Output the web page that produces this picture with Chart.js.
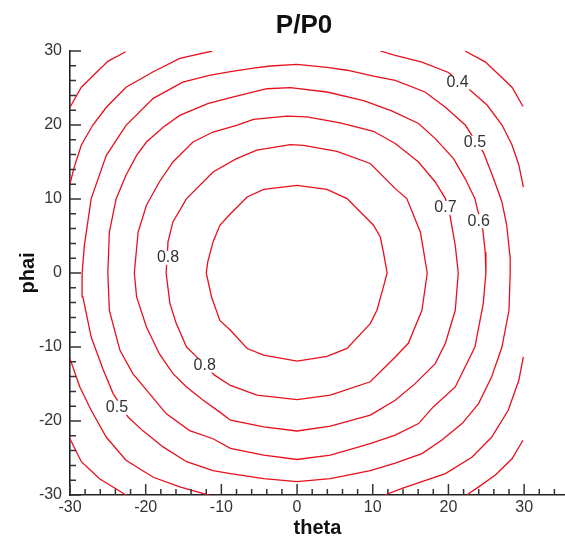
<!DOCTYPE html>
<html>
<head>
<meta charset="utf-8">
<script src="https://cdn.jsdelivr.net/npm/chart.js@4.4.1/dist/chart.umd.min.js"></script>
<style>
  html, body { margin: 0; padding: 0; background: #fff; }
  canvas { display: block; }
</style>
</head>
<body>
<canvas id="chart" width="565" height="536"></canvas>
<script>
// 축 눈금
const xTicks = [-30, -20, -10, 0, 10, 20, 30];
const yTicks = [-30, -20, -10, 0, 10, 20, 30];

// 등고선 (theta, phai) - 그림에서 읽은 꼭짓점
const c09 = [[0,11.85],[3.95,11.3],[6.6,10.05],[10.1,6.45],[11.0,4.86],[11.4,2.84],[11.9,0],[11.4,-1.9],[10.55,-5.04],[9.67,-6.84],[6.6,-10.2],[3.95,-11.26],[0,-11.9],[-4.4,-11.1],[-6.6,-10.2],[-8.8,-7.74],[-10.2,-6.4],[-11.3,-3.24],[-12.0,0],[-11.8,1.5],[-11.1,4.2],[-10.2,6.45],[-8.8,8.0],[-6.6,10.27],[-4.4,11.3],[0,11.85]];
const c08 = [[0.86,17.26],[5.27,16.45],[9.67,14.8],[12.97,11.4],[14.5,10.05],[16.3,5.5],[17.2,0],[16.5,-5.04],[14.7,-9.5],[12.97,-11.35],[9.67,-14.7],[4.4,-16.5],[0,-17.1],[-5.3,-16.5],[-8.8,-15.2],[-10.9,-13.8],[-13.5,-11.1],[-14.6,-10.0],[-15.96,-6.84],[-16.8,-4.1],[-17.3,0],[-17.05,4.2],[-16.4,6.9],[-14.6,10.05],[-11.1,13.65],[-8.0,15.46],[-5.3,16.6],[-0.9,17.35],[0.86,17.26]];
const c07 = [[1.3,21.1],[5.7,20.3],[10.1,19.15],[12.97,17.5],[16.05,15.0],[18.26,12.3],[19.6,10.05],[20.2,7.8],[20.9,3.74],[21.3,0],[20.9,-5.04],[19.6,-9.5],[18.26,-12.25],[15.6,-14.95],[12.97,-17.2],[9.67,-19.2],[4.4,-20.7],[0,-21.35],[-4.4,-20.8],[-8.8,-19.9],[-10.2,-18.8],[-12.4,-17.2],[-14.6,-15.4],[-16.4,-13.6],[-18.2,-10.9],[-19.9,-7.3],[-21.2,-3.24],[-21.5,0],[-21.0,5.54],[-19.9,9.15],[-18.2,12.3],[-16.4,15.0],[-13.75,17.7],[-11.1,19.05],[-8.0,19.96],[-5.75,20.77],[-1.33,21.2],[1.3,21.1]];
const c06 = [[-0.9,25.05],[3.95,24.46],[8.8,23.3],[12.5,21.9],[16.05,20.2],[18.26,18.16],[20.67,15.46],[22.2,12.76],[23.5,10.05],[23.8,8.7],[24.5,6.2],[24.86,2.84],[24.95,0],[24.6,-4.1],[23.5,-10.0],[22.2,-12.7],[20.9,-15.4],[18.0,-18.1],[16.05,-20.35],[12.97,-21.9],[9.67,-23.05],[4.4,-24.6],[0,-25.2],[-4.4,-24.6],[-8.8,-23.7],[-11.1,-22.4],[-14.2,-21.3],[-17.3,-19.0],[-19.5,-16.3],[-21.7,-13.6],[-23.4,-10.45],[-24.8,-5.04],[-25.0,0],[-24.8,5.54],[-23.9,10.05],[-22.6,13.2],[-21.2,15.9],[-19.9,17.7],[-17.7,19.7],[-15.5,21.3],[-11.8,22.9],[-8.8,23.7],[-3.98,24.9],[-0.9,25.05]];
const c05 = [[0,28.2],[3.95,27.8],[6.6,27.4],[10.1,26.6],[12.97,26.04],[16.9,24.46],[19.6,22.4],[22.25,19.96],[23.1,18.6],[24.6,16.35],[25.96,12.76],[27.07,9.6],[27.7,6.45],[28.16,1.95],[28.16,0],[28.0,-5.04],[27.07,-10.0],[25.7,-14.05],[23.98,-17.65],[21.8,-20.35],[19.1,-22.6],[16.5,-24.4],[12.97,-25.7],[9.67,-26.7],[4.4,-27.8],[0,-28.2],[-4.4,-27.8],[-8.8,-27.1],[-11.1,-26.7],[-14.6,-25.5],[-17.7,-23.5],[-20.4,-21.3],[-22.3,-19.5],[-24.3,-16.3],[-25.6,-13.1],[-27.2,-8.65],[-28.3,-3.24],[-28.4,0],[-28.1,3.74],[-27.2,10.05],[-25.2,15.9],[-22.6,19.96],[-19.0,23.6],[-15.1,25.8],[-11.6,26.7],[-8.8,27.2],[-5.75,27.7],[-3.5,27.97],[0,28.2]];
const c04TL = [[-30.05,11.85],[-29.5,14.1],[-28.5,17.3],[-27.0,19.96],[-25.2,22.4],[-22.6,25.1],[-19.0,27.2],[-15.5,29.0],[-11.2,30.0]];
const c04TR = [[11.0,30.0],[12.97,29.4],[16.5,28.5],[20.0,27.1],[22.65,24.9],[25.1,22.7],[27.1,19.96],[28.4,17.3],[29.3,14.6],[29.9,11.6]];
const c04BR = [[29.9,-11.35],[29.3,-14.5],[27.9,-18.55],[25.7,-22.2],[23.1,-24.9],[19.6,-27.1],[16.5,-28.2],[13.86,-29.1],[11.6,-30.0]];
const c04BL = [[-11.6,-30.0],[-12.0,-29.9],[-15.5,-28.9],[-19.0,-27.6],[-22.6,-25.3],[-25.2,-22.2],[-27.2,-18.55],[-28.7,-15.4],[-30.0,-11.6]];
const c03TL = [[-30.0,22.4],[-28.5,25.1],[-25.0,28.6],[-22.65,29.9]];
const c03TR = [[22.2,30.0],[24.9,28.5],[28.4,25.1],[29.85,22.5]];
const c03BR = [[29.85,-22.6],[28.4,-25.1],[26.2,-27.3],[24.0,-28.9],[22.4,-30.0]];
const c03BL = [[-22.6,-30.0],[-26.1,-27.8],[-28.5,-25.5],[-30.0,-22.4]];

// 등고선 라벨 위치
const labelText = ['0.4', '0.5', '0.7', '0.6', '0.8', '0.8', '0.5'];
const labelTheta = [21.2, 23.5, 19.6, 24.0, -17.05, -12.2, -23.8];
const labelPhai = [25.7, 17.6, 8.8, 7.0, 2.05, -12.5, -18.2];

const lineColor = '#e8101c';
const pieces = [
  ['0.9', c09], ['0.8', c08], ['0.7', c07], ['0.6', c06], ['0.5', c05],
  ['0.4', c04TL], ['0.4', c04TR], ['0.4', c04BR], ['0.4', c04BL],
  ['0.3', c03TL], ['0.3', c03TR], ['0.3', c03BR], ['0.3', c03BL]
];

const datasets = pieces.map(([name, pts]) => ({
  label: name,
  data: pts.map(([x, y]) => ({ x, y })),
  showLine: true,
  borderColor: lineColor,
  borderWidth: 1.3,
  pointRadius: 0,
  tension: 0,
  fill: false
}));

const FONT = "'Liberation Sans', Arial, sans-serif";

// 안쪽 눈금 + 제목 + 라벨
const decor = {
  id: 'decor',
  afterDatasetsDraw(chart) {
    const { ctx, scales: { x, y } } = chart;
    ctx.save();
    ctx.font = '16px ' + FONT;
    ctx.textAlign = 'center';
    ctx.textBaseline = 'middle';
    labelText.forEach((t, i) => {
      const px = x.getPixelForValue(labelTheta[i]);
      const py = y.getPixelForValue(labelPhai[i]);
      const w = ctx.measureText(t).width;
      ctx.fillStyle = '#fff';
      ctx.fillRect(px - w / 2 - 1, py - 7, w + 2, 14);
      ctx.fillStyle = '#333';
      ctx.fillText(t, px, py);
    });
    ctx.restore();
  },
  afterDraw(chart) {
    const { ctx, chartArea: a, scales: { x, y } } = chart;
    ctx.save();
    ctx.strokeStyle = '#333';
    ctx.lineWidth = 1.5;
    ctx.beginPath();
    for (let v = -30; v <= 34; v += 2) {
      const px = x.getPixelForValue(v);
      const len = v % 10 === 0 ? 11 : 6;
      ctx.moveTo(px, a.bottom);
      ctx.lineTo(px, a.bottom - len);
    }
    for (let v = -30; v <= 30; v += 2) {
      const py = y.getPixelForValue(v);
      const len = v % 10 === 0 ? 11 : 6;
      ctx.moveTo(a.left, py);
      ctx.lineTo(a.left + len, py);
    }
    ctx.stroke();

    ctx.fillStyle = '#111';
    ctx.textAlign = 'center';
    ctx.textBaseline = 'middle';
    ctx.font = 'bold 26px ' + FONT;
    ctx.fillText('P/P0', 304, 26);
    ctx.font = 'bold 20px ' + FONT;
    ctx.fillText('theta', (a.left + a.right) / 2, 528);
    ctx.translate(28, (a.top + a.bottom) / 2);
    ctx.rotate(-Math.PI / 2);
    ctx.fillText('phai', 0, 0);
    ctx.restore();
  }
};

new Chart(document.getElementById('chart'), {
  type: 'scatter',
  data: { datasets },
  options: {
    responsive: false,
    animation: false,
    layout: { padding: { top: 51, left: 0, right: 0, bottom: 0 } },
    plugins: { legend: { display: false }, tooltip: { enabled: false }, title: { display: false } },
    scales: {
      x: {
        type: 'linear', min: -30, max: 35.4,
        afterBuildTicks: s => { s.ticks = xTicks.map(v => ({ value: v })); },
        afterFit: s => { s.height = 41; },
        grid: { display: false, drawTicks: false },
        border: { display: true, color: '#222', width: 1.6 },
        ticks: { color: '#333', padding: 3, font: { family: FONT, size: 16 } }
      },
      y: {
        type: 'linear', min: -30, max: 30,
        afterBuildTicks: s => { s.ticks = yTicks.map(v => ({ value: v })); },
        afterFit: s => { s.width = 70; },
        grid: { display: false, drawTicks: false },
        border: { display: true, color: '#222', width: 1.6 },
        ticks: { color: '#333', padding: 8, font: { family: FONT, size: 16 } }
      }
    }
  },
  plugins: [decor]
});
</script>
</body>
</html>
